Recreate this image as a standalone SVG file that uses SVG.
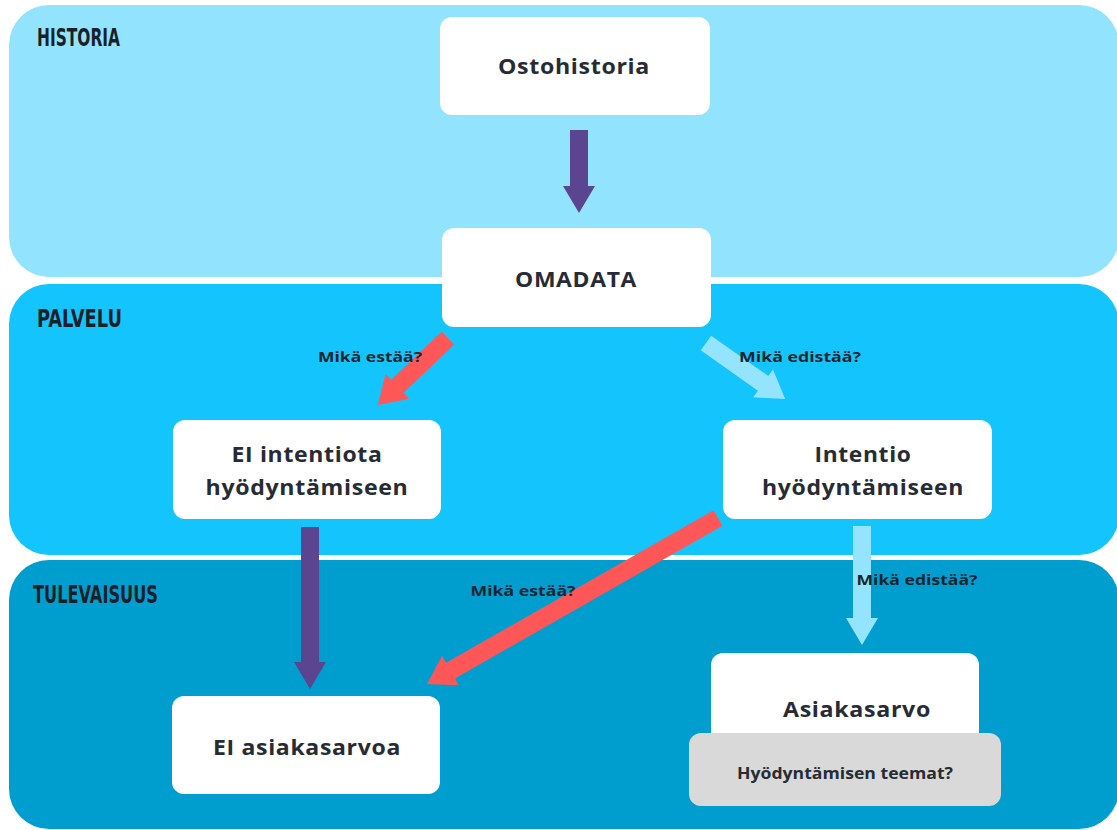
<svg xmlns="http://www.w3.org/2000/svg" width="1117" height="830" viewBox="0 0 1117 830">
<style>
.band-label{font-family:"Liberation Sans Narrow","DejaVu Sans Condensed",sans-serif;font-weight:bold;font-size:24px;fill:#1b1f27}
.node{fill:#ffffff}
.ntext{font-family:"Open Sans","Noto Sans",sans-serif;font-weight:700;font-size:21px;fill:#272b33;text-anchor:middle;letter-spacing:0.6px}
.lbl{font-family:"Open Sans","Noto Sans",sans-serif;font-weight:700;font-size:15px;fill:#1a2530;text-anchor:middle}
.purple{fill:#5b4590}
.red{fill:#ff5757}
.lblue{fill:#94e3ff}
</style>
<rect width="1117" height="830" fill="#ffffff"/>
<g id="bands">
<rect x="9" y="5" width="1110" height="272" rx="40" fill="#92e3fe"/>
<rect x="9" y="284" width="1110" height="271" rx="40" fill="#14c5fd"/>
<rect x="9" y="560" width="1110" height="269" rx="40" fill="#009ecf"/>
<text class="band-label" x="37" y="46" textLength="83" lengthAdjust="spacingAndGlyphs">HISTORIA</text>
<text class="band-label" x="37" y="327" textLength="85" lengthAdjust="spacingAndGlyphs">PALVELU</text>
<text class="band-label" x="33" y="603" textLength="125" lengthAdjust="spacingAndGlyphs">TULEVAISUUS</text>
</g>
<g id="connectors">
<path class="purple" d="M0,-9 H56 V-16 L83,0 L56,16 V9 H0Z" transform="translate(579,130) rotate(90)"/>
<path class="red" d="M0,-9 H70 V-17 L97,0 L70,17 V9 H0Z" transform="translate(448,338) rotate(136.3)"/>
<path class="lblue" d="M0,-9 H70 V-17 L97,0 L70,17 V9 H0Z" transform="translate(706,343) rotate(35.3)"/>
<path class="red" d="M0,-9 H308 V-17 L335,0 L308,17 V9 H0Z" transform="translate(718,518) rotate(150.3)"/>
<path class="purple" d="M0,-9 H135 V-16 L162,0 L135,16 V9 H0Z" transform="translate(310,527) rotate(90)"/>
<path class="lblue" d="M0,-9 H92 V-16 L119,0 L92,16 V9 H0Z" transform="translate(862,526) rotate(90)"/>
<text class="lbl" x="370" y="362" textLength="104" lengthAdjust="spacingAndGlyphs">Mikä estää?</text>
<text class="lbl" x="800" y="362" textLength="122" lengthAdjust="spacingAndGlyphs">Mikä edistää?</text>
<text class="lbl" x="523" y="596" textLength="105" lengthAdjust="spacingAndGlyphs">Mikä estää?</text>
<text class="lbl" x="917" y="585" textLength="121" lengthAdjust="spacingAndGlyphs">Mikä edistää?</text>
</g>
<g id="ostohistoria">
<rect class="node" x="440" y="17" width="270" height="98" rx="12"/>
<text class="ntext" x="574" y="74" textLength="152" lengthAdjust="spacingAndGlyphs">Ostohistoria</text>
</g>
<g id="omadata">
<rect class="node" x="442" y="228" width="269" height="99" rx="12"/>
<text class="ntext" x="576" y="287" textLength="122" lengthAdjust="spacingAndGlyphs">OMADATA</text>
</g>
<g id="ei-intentiota">
<rect class="node" x="173" y="420" width="268" height="99" rx="12"/>
<text class="ntext" x="307" y="462" textLength="151" lengthAdjust="spacingAndGlyphs">EI intentiota</text>
<text class="ntext" x="307" y="495" textLength="203" lengthAdjust="spacingAndGlyphs">hyödyntämiseen</text>
</g>
<g id="intentio">
<rect class="node" x="723" y="420" width="269" height="99" rx="12"/>
<text class="ntext" x="863" y="462" textLength="97" lengthAdjust="spacingAndGlyphs">Intentio</text>
<text class="ntext" x="863" y="495" textLength="202" lengthAdjust="spacingAndGlyphs">hyödyntämiseen</text>
</g>
<g id="ei-asiakasarvoa">
<rect class="node" x="172" y="696" width="268" height="98" rx="12"/>
<text class="ntext" x="307" y="755" textLength="188" lengthAdjust="spacingAndGlyphs">EI asiakasarvoa</text>
</g>
<g id="asiakasarvo">
<rect class="node" x="711" y="653" width="268" height="100" rx="12"/>
<text class="ntext" x="857" y="717" textLength="148" lengthAdjust="spacingAndGlyphs">Asiakasarvo</text>
<rect x="689" y="733" width="312" height="73" rx="12" fill="#d9d9d9"/>
<text class="lbl" x="845" y="779" style="font-size:16px;fill:#272b33" textLength="216" lengthAdjust="spacingAndGlyphs">Hyödyntämisen teemat?</text>
</g>
</svg>
